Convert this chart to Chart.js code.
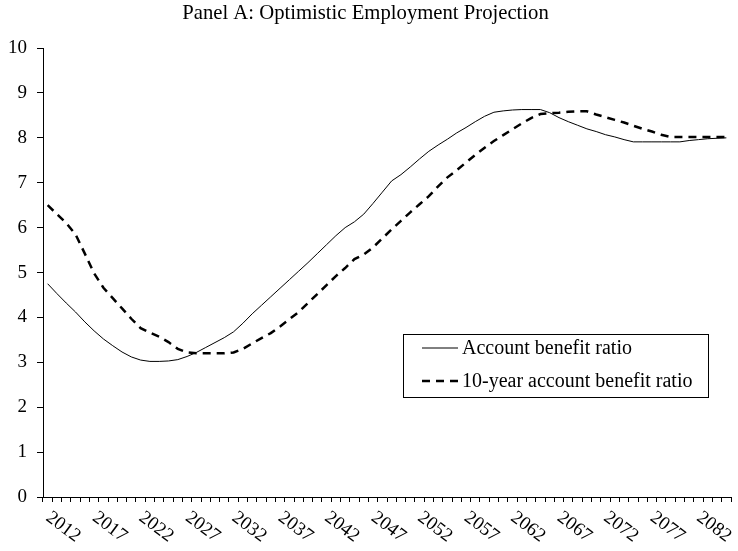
<!DOCTYPE html>
<html>
<head>
<meta charset="utf-8">
<script src="https://cdn.jsdelivr.net/npm/chart.js@4.4.0/dist/chart.umd.min.js"></script>
<style>
  html, body { margin: 0; padding: 0; background: #fff; }
  #wrap { width: 738px; height: 551px; }
</style>
</head>
<body>
<div id="wrap"><canvas id="chart" width="738" height="551"></canvas></div>
<script>
// Panel A: optimistic employment projection, 2012-2085

const years = [
  2012, 2013, 2014, 2015, 2016, 2017, 2018, 2019, 2020, 2021,
  2022, 2023, 2024, 2025, 2026, 2027, 2028, 2029, 2030, 2031,
  2032, 2033, 2034, 2035, 2036, 2037, 2038, 2039, 2040, 2041,
  2042, 2043, 2044, 2045, 2046, 2047, 2048, 2049, 2050, 2051,
  2052, 2053, 2054, 2055, 2056, 2057, 2058, 2059, 2060, 2061,
  2062, 2063, 2064, 2065, 2066, 2067, 2068, 2069, 2070, 2071,
  2072, 2073, 2074, 2075, 2076, 2077, 2078, 2079, 2080, 2081,
  2082, 2083, 2084, 2085
];

const accountRatio = [
  4.75, 4.53, 4.32, 4.12, 3.90, 3.70, 3.52, 3.37, 3.23, 3.12,
  3.05, 3.02, 3.02, 3.03, 3.06, 3.13, 3.22, 3.33, 3.44, 3.55,
  3.68, 3.87, 4.08, 4.27, 4.46, 4.65, 4.84, 5.03, 5.22, 5.42,
  5.62, 5.82, 6.00, 6.13, 6.30, 6.54, 6.79, 7.04, 7.18, 7.35,
  7.53, 7.70, 7.84, 7.97, 8.11, 8.23, 8.36, 8.48, 8.57, 8.60,
  8.62, 8.63, 8.63, 8.63, 8.56, 8.45, 8.36, 8.28, 8.20, 8.14,
  8.07, 8.02, 7.96, 7.91, 7.91, 7.91, 7.91, 7.91, 7.91, 7.94,
  7.96, 7.98, 7.99, 8.00
];

const tenYearRatio = [
  6.50, 6.30, 6.10, 5.85, 5.42, 4.98, 4.66, 4.43, 4.20, 3.97,
  3.76, 3.66, 3.57, 3.45, 3.30, 3.22, 3.20, 3.20, 3.20, 3.20,
  3.22, 3.30, 3.42, 3.54, 3.65, 3.80, 3.96, 4.12, 4.32, 4.52,
  4.72, 4.92, 5.10, 5.30, 5.40, 5.56, 5.76, 5.96, 6.15, 6.34,
  6.52, 6.70, 6.92, 7.12, 7.28, 7.45, 7.62, 7.78, 7.93, 8.06,
  8.19, 8.32, 8.44, 8.53, 8.55, 8.56, 8.58, 8.59, 8.59, 8.52,
  8.46, 8.40, 8.34, 8.27, 8.20, 8.14, 8.07, 8.02, 8.02, 8.02,
  8.02, 8.02, 8.02, 8.02
];

const labelStep = 5; // a year label every 5th category
const yTicks = [0, 1, 2, 3, 4, 5, 6, 7, 8, 9, 10];

const serif = '"Liberation Serif", "Times New Roman", serif';

// x labels run downward to the right, which Chart.js can't do on its own
const rotatedLabels = {
  id: 'rotatedLabels',
  afterDraw(chart) {
    const xs = chart.scales.x;
    const ctx = chart.ctx;
    ctx.save();
    ctx.fillStyle = '#000';
    ctx.font = '19px ' + serif;
    ctx.textAlign = 'left';
    ctx.textBaseline = 'top';
    years.forEach((yr, i) => {
      if (i % labelStep) return;
      const px = xs.getPixelForValue(i);
      ctx.save();
      ctx.translate(px + 6, xs.top + 11);
      ctx.rotate(37 * Math.PI / 180);
      ctx.fillText(String(yr), 0, 0);
      ctx.restore();
    });
    ctx.restore();
  }
};

// boxed legend sitting inside the plot
const boxLegend = {
  id: 'boxLegend',
  afterDraw(chart) {
    const ctx = chart.ctx;
    ctx.save();
    ctx.strokeStyle = '#000';
    ctx.lineWidth = 1;
    ctx.setLineDash([]);
    ctx.strokeRect(403.5, 334.5, 305, 63);
    chart.data.datasets.forEach((ds, i) => {
      const y = 348 + i * 33;
      ctx.beginPath();
      ctx.setLineDash(ds.borderDash || []);
      ctx.lineWidth = ds.borderWidth;
      ctx.strokeStyle = ds.borderColor;
      ctx.moveTo(422, y);
      ctx.lineTo(458, y);
      ctx.stroke();
      ctx.setLineDash([]);
      ctx.fillStyle = '#000';
      ctx.font = '20px ' + serif;
      ctx.textAlign = 'left';
      ctx.textBaseline = 'middle';
      ctx.fillText(ds.label, 462, y + 1);
    });
    ctx.restore();
  }
};

const ctx = document.getElementById('chart').getContext('2d');
new Chart(ctx, {
  type: 'line',
  data: {
    labels: years.map(String),
    datasets: [
      {
        label: 'Account benefit ratio',
        data: accountRatio,
        borderColor: '#000',
        borderWidth: 1,
        pointRadius: 0,
        tension: 0
      },
      {
        label: '10-year account benefit ratio',
        data: tenYearRatio,
        borderColor: '#000',
        borderWidth: 2.5,
        borderDash: [8, 6],
        pointRadius: 0,
        tension: 0
      }
    ]
  },
  options: {
    responsive: false,
    animation: false,
    layout: { padding: { left: 0, right: 7, top: 0, bottom: 0 } },
    plugins: {
      legend: { display: false },
      tooltip: { enabled: false },
      title: {
        display: true,
        text: 'Panel A: Optimistic Employment Projection',
        color: '#000',
        font: { family: serif, size: 20.7, weight: 'normal', lineHeight: 1.2 },
        padding: { top: 1, bottom: 22.2 }
      }
    },
    scales: {
      x: {
        type: 'category',
        offset: true,
        grid: { offset: true, drawOnChartArea: false, drawTicks: true, tickLength: 5, color: '#000', lineWidth: 1 },
        border: { display: true, color: '#000', width: 1 },
        ticks: { display: false, autoSkip: false },
        afterFit: s => { s.height = 54; }
      },
      y: {
        min: yTicks[0],
        max: yTicks[yTicks.length - 1],
        afterBuildTicks: s => { s.ticks = yTicks.map(v => ({ value: v })); },
        grid: { drawOnChartArea: false, drawTicks: true, tickLength: 6, color: '#000', lineWidth: 1 },
        border: { display: true, color: '#000', width: 1 },
        ticks: { color: '#000', padding: 10, font: { family: serif, size: 19 } },
        afterFit: s => { s.width = 43; }
      }
    }
  },
  plugins: [rotatedLabels, boxLegend]
});
</script>
</body>
</html>
